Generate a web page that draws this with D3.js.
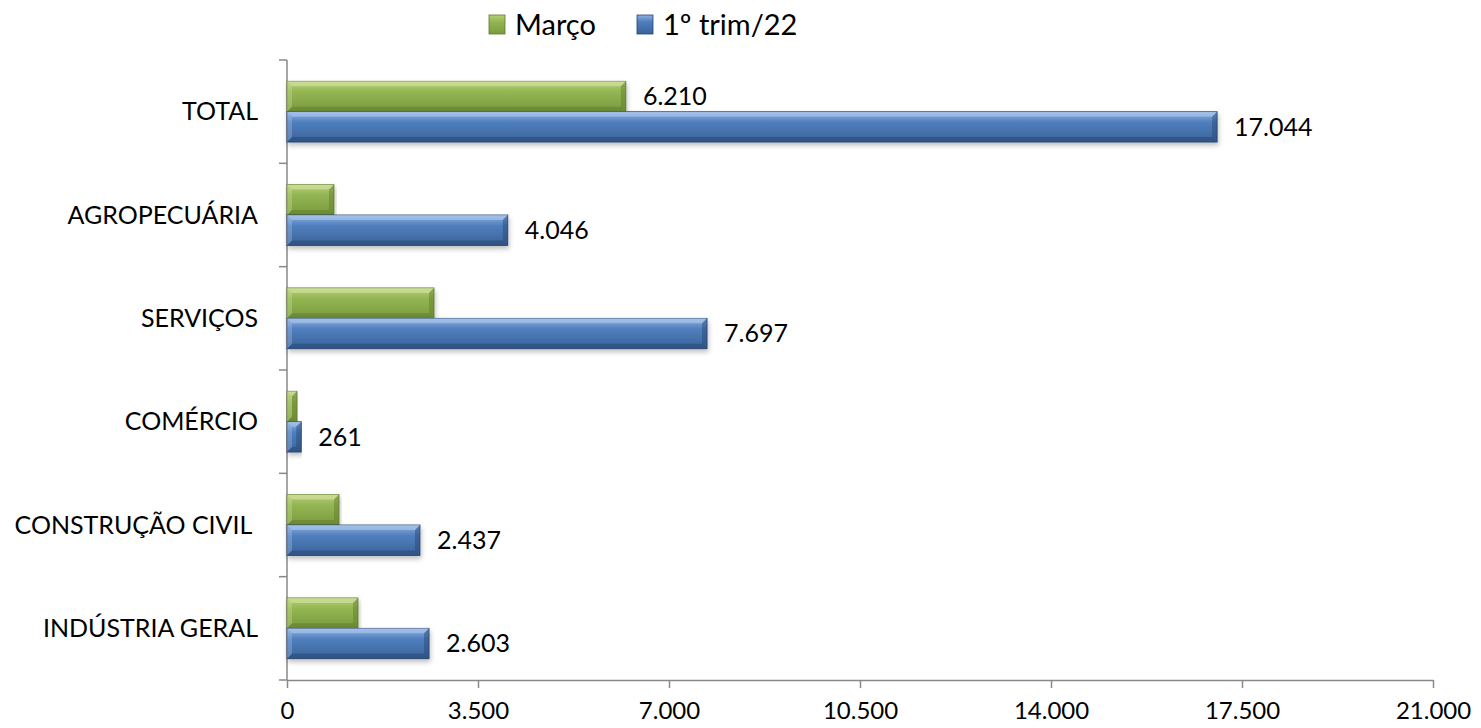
<!DOCTYPE html>
<html>
<head>
<meta charset="utf-8">
<script src="https://cdn.jsdelivr.net/npm/d3@7"></script>
<style>
  body { margin: 0; background: #fff; }
  text { font-family: Lato, "Open Sans", sans-serif; fill: #000; }
</style>
</head>
<body>
<svg></svg>
<script>
const categories = ['TOTAL', 'AGROPECUÁRIA', 'SERVIÇOS', 'COMÉRCIO', 'CONSTRUÇÃO CIVIL ', 'INDÚSTRIA GERAL'];
const marco = [6210, 861, 2694, 183, 953, 1301];
const trim = [17044, 4046, 7697, 261, 2437, 2603];
const marcoLabels = ['6.210', '', '', '', '', ''];
const xTicks = [0, 3500, 7000, 10500, 14000, 17500, 21000];
const seriesNames = ['Março', '1º trim/22'];

const width = 1481, height = 728;
const margin = { top: 60, right: 48, bottom: 48, left: 287 };

const locale = d3.formatLocale({ decimal: ',', thousands: '.', grouping: [3] });
const fmt = locale.format(',d');

const svg = d3.select('svg')
    .attr('width', width)
    .attr('height', height);

const defs = svg.append('defs');

function grad(id, top, mid, bot) {
    const g = defs.append('linearGradient').attr('id', id)
        .attr('x1', 0).attr('y1', 0).attr('x2', 0).attr('y2', 1);
    g.append('stop').attr('offset', '0%').attr('stop-color', top);
    g.append('stop').attr('offset', '35%').attr('stop-color', mid);
    g.append('stop').attr('offset', '100%').attr('stop-color', bot);
}
grad('gGreen', '#b7d07a', '#93b552', '#7b9b3e');
grad('gBlue', '#8fb1e0', '#4f7fbe', '#3b6399');

const shadow = defs.append('filter').attr('id', 'shadow')
    .attr('x', '-5%').attr('y', '-20%').attr('width', '110%').attr('height', '160%');
shadow.append('feDropShadow').attr('dx', 1).attr('dy', 3).attr('stdDeviation', 2.5)
    .attr('flood-color', '#000').attr('flood-opacity', 0.25);

const x = d3.scaleLinear()
    .domain([0, 21000])
    .range([margin.left, width - margin.right]);

const y = d3.scaleBand()
    .domain(categories)
    .range([margin.top, height - margin.bottom]);

const sub = d3.scaleBand()
    .domain(seriesNames)
    .range([0, y.bandwidth()])
    .paddingInner(0)
    .paddingOuter(0.7);

// axes
const xAxis = svg.append('g')
    .attr('transform', `translate(0, ${height - margin.bottom})`)
    .call(d3.axisBottom(x).tickValues(xTicks).tickFormat(d => fmt(d)).tickSizeInner(8).tickSizeOuter(0));
xAxis.select('.domain').attr('stroke', '#898989').attr('stroke-width', 1.5);
xAxis.selectAll('.tick line').attr('stroke', '#898989').attr('stroke-width', 1.5);
xAxis.selectAll('.tick text').attr('font-size', 24).attr('dy', '0.35em').attr('y', 31)
    .style('font-family', 'Lato, sans-serif');

const yAxis = svg.append('g')
    .attr('transform', `translate(${margin.left}, 0)`);
yAxis.append('line')
    .attr('y1', margin.top).attr('y2', height - margin.bottom)
    .attr('stroke', '#898989').attr('stroke-width', 1.5);
const bounds = categories.map(c => y(c)).concat([height - margin.bottom]);
yAxis.selectAll('.ytick').data(bounds).join('line')
    .attr('x1', -8).attr('x2', 0)
    .attr('y1', d => d).attr('y2', d => d)
    .attr('stroke', '#898989').attr('stroke-width', 1.5);
yAxis.selectAll('.ylab').data(categories).join('text')
    .attr('x', -29)
    .attr('y', d => y(d) + y.bandwidth() / 2)
    .attr('dy', '0.35em')
    .attr('text-anchor', 'end')
    .attr('font-size', 25)
    .style('white-space', 'pre')
    .text(d => d);

// bars with bevel
function drawBars(values, name, fillId, light, dark) {
    const g = svg.append('g');
    const h = sub.bandwidth();
    const bars = g.selectAll('g').data(values).join('g')
        .attr('transform', (d, i) => `translate(${x(0)}, ${y(categories[i]) + sub(name)})`);
    bars.append('rect')
        .attr('width', d => x(d) - x(0))
        .attr('height', h)
        .attr('fill', `url(#${fillId})`)
        .attr('stroke', dark).attr('stroke-width', 0.8)
        .attr('filter', 'url(#shadow)');
    const b = 5;
    bars.append('path')
        .attr('d', d => { const w = x(d) - x(0); const e = Math.min(b, w / 2);
            return `M0,0 L${w},0 L${w - e},${e} L${e},${e} Z`; })
        .attr('fill', light).attr('opacity', 0.55);
    bars.append('path')
        .attr('d', d => { const w = x(d) - x(0); const e = Math.min(b, w / 2);
            return `M0,${h} L${w},${h} L${w - e},${h - e} L${e},${h - e} Z`; })
        .attr('fill', dark).attr('opacity', 0.5);
    bars.append('path')
        .attr('d', d => { const w = x(d) - x(0); const e = Math.min(b, w / 2);
            return `M${w},0 L${w},${h} L${w - e},${h - e} L${w - e},${e} Z`; })
        .attr('fill', dark).attr('opacity', 0.45);
    bars.append('path')
        .attr('d', d => { const w = x(d) - x(0); const e = Math.min(b, w / 2);
            return `M0,0 L0,${h} L${e},${h - e} L${e},${e} Z`; })
        .attr('fill', light).attr('opacity', 0.3);
}
drawBars(marco, 'Março', 'gGreen', '#d7e8a8', '#5e7a2a');
drawBars(trim, '1º trim/22', 'gBlue', '#b5cdf0', '#25446f');

// data labels
svg.append('g').selectAll('text').data(trim).join('text')
    .attr('x', d => x(d) + 17)
    .attr('y', (d, i) => y(categories[i]) + sub('1º trim/22') + sub.bandwidth() / 2)
    .attr('dy', '0.35em')
    .attr('font-size', 25)
    .text(d => fmt(d));
svg.append('g').selectAll('text').data(marco).join('text')
    .attr('x', d => x(d) + 17)
    .attr('y', (d, i) => y(categories[i]) + sub('Março') + sub.bandwidth() / 2)
    .attr('dy', '0.35em')
    .attr('font-size', 25)
    .text((d, i) => marcoLabels[i]);

// legend
const legend = svg.append('g').attr('transform', 'translate(489, 14)');
const legendItems = [
    { name: seriesNames[0], fill: 'gGreen', dark: '#5e7a2a', x: 0 },
    { name: seriesNames[1], fill: 'gBlue', dark: '#25446f', x: 148 }
];
const li = legend.selectAll('g').data(legendItems).join('g')
    .attr('transform', d => `translate(${d.x}, 0)`);
li.append('rect')
    .attr('width', 16).attr('height', 19).attr('y', 1)
    .attr('fill', d => `url(#${d.fill})`)
    .attr('stroke', d => d.dark).attr('stroke-width', 0.8);
li.append('text')
    .attr('x', 26).attr('y', 11)
    .attr('dy', '0.35em')
    .attr('font-size', 29)
    .text(d => d.name);
</script>
</body>
</html>
